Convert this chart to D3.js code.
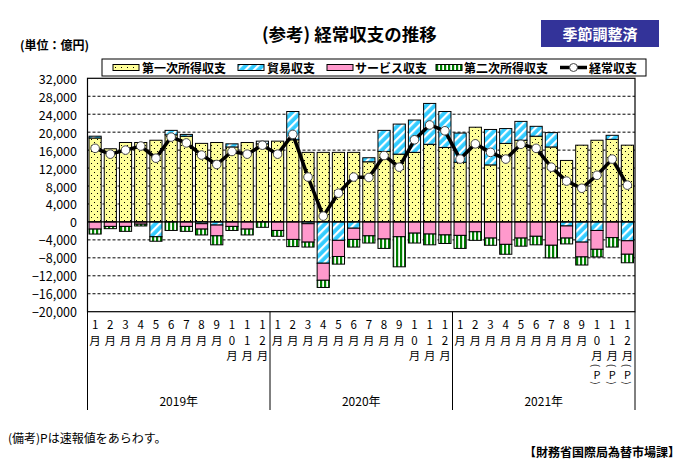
<!DOCTYPE html>
<html><head><meta charset="utf-8">
<script src="https://cdn.jsdelivr.net/npm/d3@7"></script>
<style>
body{margin:0;background:#fff;}
svg{display:block;}
text{font-family:"Noto Sans CJK JP","Noto Sans",sans-serif;fill:#000;}
</style></head><body>
<svg id="chart" width="685" height="470"></svg>
<script>
// ---- data (億円) ----
const categories = [
 "2019-01","2019-02","2019-03","2019-04","2019-05","2019-06","2019-07","2019-08","2019-09","2019-10","2019-11","2019-12",
 "2020-01","2020-02","2020-03","2020-04","2020-05","2020-06","2020-07","2020-08","2020-09","2020-10","2020-11","2020-12",
 "2021-01","2021-02","2021-03","2021-04","2021-05","2021-06","2021-07","2021-08","2021-09","2021-10","2021-11","2021-12"];
const monthLabels = [
 "1月","2月","3月","4月","5月","6月","7月","8月","9月","10月","11月","12月",
 "1月","2月","3月","4月","5月","6月","7月","8月","9月","10月","11月","12月",
 "1月","2月","3月","4月","5月","6月","7月","8月","9月","10月(P)","11月(P)","12月(P)"];
const years = ["2019年","2020年","2021年"];
const primaryIncome = [18700,16300,17700,17700,18200,19400,19100,17500,17700,16700,17700,17400,
 18000,18300,15500,15500,15500,15500,13400,15700,15100,15500,17300,16600,
 13300,21100,12700,17500,18200,19100,16700,13700,17100,18200,18400,17100];
const tradeBalance = [400,0,0,0,-3300,1000,400,-400,-700,700,0,600,
 0,6300,-400,-9200,-4100,-1400,900,4700,6700,7200,9100,8000,
 6500,0,7900,3300,4200,2200,3200,-900,-4500,-1900,900,-4200];
const servicesBalance = [-1600,-1000,-1000,-500,0,0,-1000,-1200,-2400,-1000,-1600,0,
 -1900,-3900,-4100,-3800,-3600,-2500,-3100,-3800,-3300,-2500,-2700,-2900,
 -3000,-2200,-3600,-5000,-3600,-3200,-5200,-2700,-3300,-4200,-3500,-3000];
const secondaryIncome = [-1100,-500,-1100,-400,-1000,-1900,-1100,-1300,-2000,-900,-1300,-1200,
 -1300,-1600,-1100,-1600,-1700,-1700,-1600,-2100,-6700,-2200,-2400,-1900,
 -2900,-1900,-1600,-2200,-1800,-1900,-2800,-1300,-1800,-1700,-2100,-1900];
const currentAccount = [16400,15100,16000,16900,14200,18900,17600,14900,12800,15700,15100,17100,
 15100,19500,10000,1300,6400,10000,9900,14800,12200,18300,21600,20300,
 14000,17400,15500,14000,17300,16400,12200,9100,7500,10400,14000,8200];
const yTicks = [32000,28000,24000,20000,16000,12000,8000,4000,0,-4000,-8000,-12000,-16000,-20000];
const seriesNames = ["第一次所得収支","貿易収支","サービス収支","第二次所得収支"];
const lineName = "経常収支";

// ---- layout ----
const svg = d3.select("#chart");
const L = 87.5, R = 635, T = 78.3, B = 311.7;
const x = d3.scaleBand().domain(categories).range([L, R]).paddingInner(0.2).paddingOuter(0.1);
const y = d3.scaleLinear().domain([-20000, 32000]).range([B, T]);

// patterns
const defs = svg.append("defs");
const pY = defs.append("pattern").attr("id","pYel").attr("patternUnits","userSpaceOnUse").attr("width",6).attr("height",6);
pY.append("rect").attr("width",6).attr("height",6).attr("fill","#FFFF99");
pY.append("rect").attr("x",1).attr("y",1).attr("width",1).attr("height",1).attr("fill","#000");
pY.append("rect").attr("x",4).attr("y",4).attr("width",1).attr("height",1).attr("fill","#000");
const pC = defs.append("pattern").attr("id","pCyan").attr("patternUnits","userSpaceOnUse").attr("width",6).attr("height",6)
  .attr("patternTransform","rotate(45)");
pC.append("rect").attr("width",6).attr("height",6).attr("fill","#33CCFF");
pC.append("rect").attr("x",0).attr("y",0).attr("width",2.2).attr("height",6).attr("fill","#fff");
const pG = defs.append("pattern").attr("id","pGrn").attr("patternUnits","userSpaceOnUse").attr("width",4).attr("height",4);
pG.append("rect").attr("width",4).attr("height",4).attr("fill","#fff");
pG.append("rect").attr("x",0).attr("width",2.2).attr("height",4).attr("fill","#008000");
const fills = ["url(#pYel)","url(#pCyan)","#FF99CC","url(#pGrn)"];

// grid lines
svg.append("g").selectAll("line").data(yTicks.filter(v => v !== 0 && v !== 32000 && v !== -20000))
  .join("line").attr("x1",L).attr("x2",R).attr("y1",d=>y(d)).attr("y2",d=>y(d))
  .attr("stroke","#000").attr("stroke-width",1).attr("stroke-dasharray","3,2");

// stacked bars
const table = categories.map((c,i)=>({cat:c, s0:primaryIncome[i], s1:tradeBalance[i], s2:servicesBalance[i], s3:secondaryIncome[i]}));
const stack = d3.stack().keys(["s0","s1","s2","s3"]).offset(d3.stackOffsetDiverging)(table);
svg.append("g").selectAll("g").data(stack).join("g").attr("fill",(d,i)=>fills[i])
  .selectAll("rect").data(d=>d.filter(p=>p[1]!==p[0])).join("rect")
  .attr("x",d=>x(d.data.cat)).attr("width",x.bandwidth())
  .attr("y",d=>y(Math.max(d[0],d[1]))).attr("height",d=>Math.abs(y(d[0])-y(d[1])))
  .attr("stroke","#000").attr("stroke-width",1);

// zero line
svg.append("line").attr("x1",L).attr("x2",R).attr("y1",y(0)).attr("y2",y(0)).attr("stroke","#000").attr("stroke-width",1.2);

// current account line
const line = d3.line().x((d,i)=>x(categories[i])+x.bandwidth()/2).y(d=>y(d));
svg.append("path").attr("d",line(currentAccount)).attr("fill","none").attr("stroke","#000").attr("stroke-width",3.5).attr("stroke-linejoin","round");
svg.append("g").selectAll("circle").data(currentAccount).join("circle")
  .attr("cx",(d,i)=>x(categories[i])+x.bandwidth()/2).attr("cy",d=>y(d)).attr("r",4.3)
  .attr("fill","#fff").attr("stroke","#444").attr("stroke-width",1);

// plot border
svg.append("rect").attr("x",L).attr("y",T).attr("width",R-L).attr("height",B-T).attr("fill","none").attr("stroke","#000").attr("stroke-width",1.2);

// y tick labels
svg.append("g").selectAll("text").data(yTicks).join("text")
  .attr("x",77).attr("y",d=>y(d)).attr("text-anchor","end").attr("dominant-baseline","central")
  .attr("font-size",12.5).attr("font-family","'Liberation Sans',Arial,sans-serif")
  .text(d=>d3.format(",")(d));

// x category labels (vertical)
const rowY = [324, 340, 355];
const gx = svg.append("g");
monthLabels.forEach((lab,i)=>{
  const cx = x(categories[i]) + x.bandwidth()/2;
  const main = lab.replace(/\(.*\)/,"");
  Array.from(main).forEach((c,k)=>{
    gx.append("text").attr("x",cx).attr("y",rowY[k]).attr("text-anchor","middle").attr("dominant-baseline","central")
      .attr("font-size",11.5).text(c);
  });
  const m = lab.match(/\((.*)\)/);
  if (m) {
    gx.append("text").attr("x",cx).attr("y",365.5).attr("text-anchor","middle").attr("dominant-baseline","central")
      .attr("font-size",10).attr("font-family","'Liberation Sans',Arial,sans-serif")
      .attr("transform",`rotate(90,${cx},365.5)`).text("(");
    gx.append("text").attr("x",cx).attr("y",374).attr("text-anchor","middle").attr("dominant-baseline","central")
      .attr("font-size",11).attr("font-family","'Liberation Sans',Arial,sans-serif").text(m[1]);
    gx.append("text").attr("x",cx).attr("y",383).attr("text-anchor","middle").attr("dominant-baseline","central")
      .attr("font-size",10).attr("font-family","'Liberation Sans',Arial,sans-serif")
      .attr("transform",`rotate(90,${cx},383)`).text(")");
  }
});
// year separators & labels
[0,1,2,3].forEach(k=>{
  const xx = k===0 ? L : (k===3 ? R : x(categories[k*12]) - x.step()*x.paddingInner()/2);
  svg.append("line").attr("x1",xx).attr("x2",xx).attr("y1",B).attr("y2",410).attr("stroke","#000").attr("stroke-width",1);
});
years.forEach((yr,k)=>{
  const x0 = x(categories[k*12]), x1 = x(categories[k*12+11]) + x.bandwidth();
  svg.append("text").attr("x",(x0+x1)/2).attr("y",400).attr("text-anchor","middle").attr("dominant-baseline","central")
    .attr("font-size",12).text(yr);
});

// legend
svg.append("rect").attr("x",102).attr("y",59).attr("width",544).attr("height",17).attr("fill","#fff").attr("stroke","#000");
const legItems = [
  {name:seriesNames[0], fill:fills[0], sx:113, tx:142},
  {name:seriesNames[1], fill:fills[1], sx:238, tx:267},
  {name:seriesNames[2], fill:fills[2], sx:327, tx:355},
  {name:seriesNames[3], fill:fills[3], sx:436, tx:464}];
legItems.forEach(it=>{
  svg.append("rect").attr("x",it.sx).attr("y",64.5).attr("width",26).attr("height",6).attr("fill",it.fill).attr("stroke","#000");
  svg.append("text").attr("x",it.tx).attr("y",67.5).attr("dominant-baseline","central").attr("font-size",12).attr("font-weight","bold").text(it.name);
});
svg.append("line").attr("x1",560).attr("x2",587).attr("y1",67.5).attr("y2",67.5).attr("stroke","#000").attr("stroke-width",3.5);
svg.append("circle").attr("cx",573.5).attr("cy",67.5).attr("r",4).attr("fill","#fff").attr("stroke","#444");
svg.append("text").attr("x",589).attr("y",67.5).attr("dominant-baseline","central").attr("font-size",12).attr("font-weight","bold").text(lineName);

// titles
svg.append("text").attr("x",262).attr("y",33.5).attr("dominant-baseline","central").attr("font-size",17.5).attr("font-weight","bold").text("(参考) 経常収支の推移");
svg.append("rect").attr("x",541).attr("y",20).attr("width",118).attr("height",27).attr("fill","#333399");
svg.append("text").attr("x",600).attr("y",33.5).attr("text-anchor","middle").attr("dominant-baseline","central").attr("font-size",15).attr("font-weight","bold").style("fill","#fff").text("季節調整済");
svg.append("text").attr("x",20).attr("y",44).attr("dominant-baseline","central").attr("font-size",12).attr("font-weight","bold").text("(単位：億円)");

// notes
svg.append("text").attr("x",8).attr("y",437).attr("dominant-baseline","central").attr("font-size",12).text("(備考)Pは速報値をあらわす。");
svg.append("text").attr("x",680).attr("y",451).attr("text-anchor","end").attr("dominant-baseline","central").attr("font-size",12).attr("font-weight","bold").text("【財務省国際局為替市場課】");
</script>
</body></html>
